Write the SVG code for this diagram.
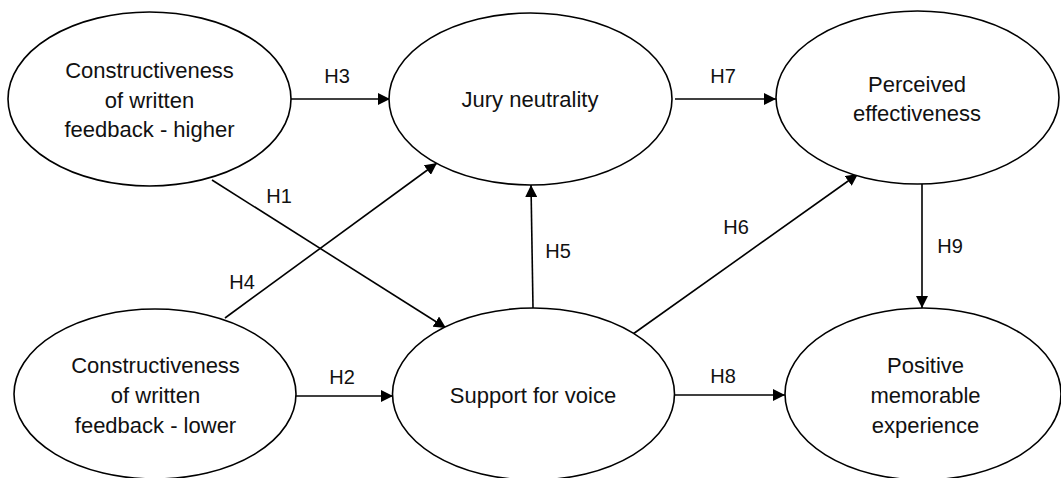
<svg xmlns="http://www.w3.org/2000/svg" width="1061" height="478" viewBox="0 0 1061 478">
<style>
.node ellipse{fill:#fff;stroke:#000;stroke-width:1.6}
.node text{font-family:"Liberation Sans",Arial,sans-serif;font-size:22px;fill:#111;text-anchor:middle}
.edges line{stroke:#000;stroke-width:1.6;marker-end:url(#ah)}
.lbl{font-family:"Liberation Sans",Arial,sans-serif;font-size:20px;fill:#111;text-anchor:middle}
</style>
<defs>
<marker id="ah" viewBox="0 0 12 12" refX="12" refY="6" markerWidth="12" markerHeight="12" markerUnits="userSpaceOnUse" orient="auto">
<path d="M0,0 L12,6 L0,12 Z" fill="#000"/>
</marker>
</defs>
<rect width="1061" height="478" fill="#fff"/>
<g class="edges">
<line x1="291" y1="99" x2="390" y2="99"/>
<line x1="675" y1="99" x2="776" y2="99"/>
<line x1="296" y1="396" x2="393" y2="396"/>
<line x1="675" y1="395" x2="785" y2="395"/>
<line x1="212" y1="180" x2="446" y2="328"/>
<line x1="225" y1="318" x2="437" y2="163"/>
<line x1="533" y1="308" x2="531" y2="185"/>
<line x1="633" y1="334" x2="858" y2="174"/>
<line x1="922" y1="184" x2="922" y2="308"/>
<text class="lbl" x="337" y="83">H3</text>
<text class="lbl" x="723" y="83">H7</text>
<text class="lbl" x="342" y="384">H2</text>
<text class="lbl" x="723" y="383">H8</text>
<text class="lbl" x="279" y="203">H1</text>
<text class="lbl" x="242" y="289">H4</text>
<text class="lbl" x="558" y="258">H5</text>
<text class="lbl" x="736" y="234">H6</text>
<text class="lbl" x="950" y="253">H9</text>
</g>
<g id="n1" class="node"><ellipse cx="149.5" cy="99" rx="141.5" ry="87"/>
<text x="149.5" y="78">Constructiveness</text><text x="149.5" y="108">of written</text><text x="149.5" y="137">feedback - higher</text></g>
<g id="n2" class="node"><ellipse cx="530.5" cy="99" rx="141.5" ry="86"/>
<text x="530" y="107">Jury neutrality</text></g>
<g id="n3" class="node"><ellipse cx="917.5" cy="97.5" rx="141.5" ry="86.5"/>
<text x="917" y="92">Perceived</text><text x="917" y="121">effectiveness</text></g>
<g id="n4" class="node"><ellipse cx="155" cy="394" rx="141" ry="85"/>
<text x="155.5" y="373">Constructiveness</text><text x="155.5" y="403">of written</text><text x="155.5" y="433">feedback - lower</text></g>
<g id="n5" class="node"><ellipse cx="533.5" cy="394" rx="141" ry="86"/>
<text x="533" y="403">Support for voice</text></g>
<g id="n6" class="node"><ellipse cx="923" cy="394" rx="138" ry="86"/>
<text x="925.5" y="373">Positive</text><text x="925.5" y="403">memorable</text><text x="925.5" y="433">experience</text></g>
</svg>
